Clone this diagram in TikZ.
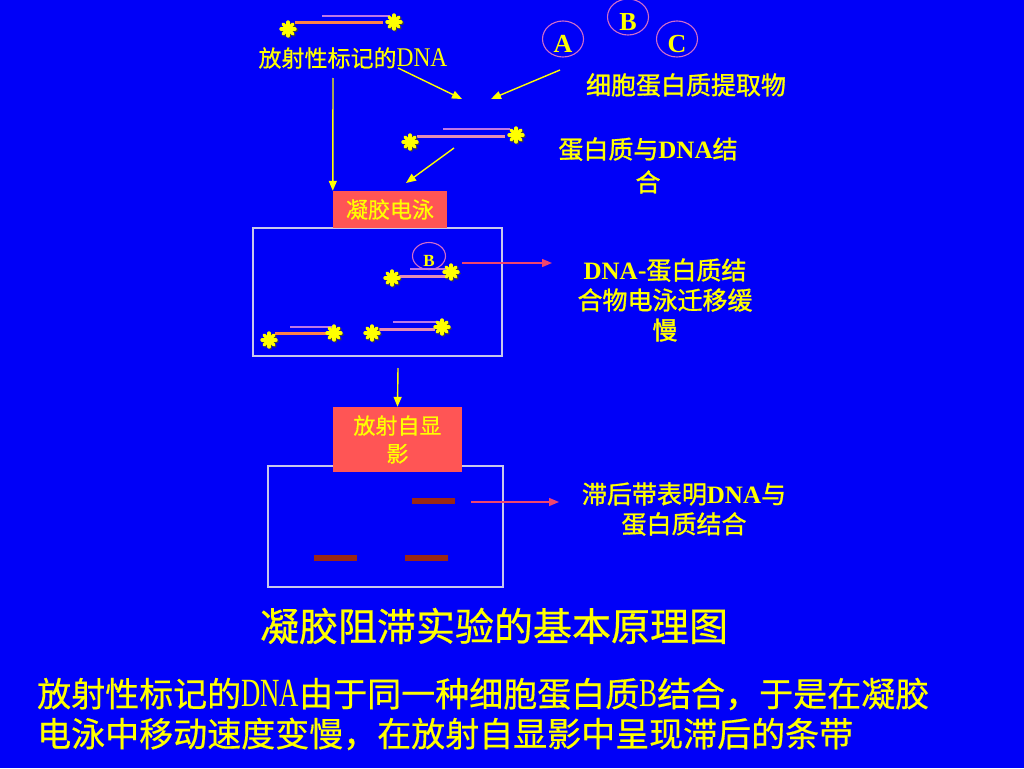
\documentclass[tikz,border=0pt]{standalone}
\usepackage{graphicx}
\usepackage{fontspec}
\setmainfont{Liberation Serif}
\newfontfamily\cjk[FakeBold=0.5]{Noto Sans CJK SC}
\newfontfamily\cjkb[FakeBold=1.2]{Noto Sans CJK SC}
\usetikzlibrary{arrows.meta,shapes.geometric,calc}
\definecolor{bg}{RGB}{0,0,248}
\definecolor{ylw}{RGB}{255,255,0}
\definecolor{boxred}{RGB}{255,85,85}
\definecolor{arrpink}{RGB}{240,70,110}
\definecolor{bandc}{RGB}{155,40,20}
\definecolor{ringc}{RGB}{210,110,200}
\definecolor{gelline}{RGB}{200,200,235}
\definecolor{strO}{RGB}{255,130,70}
\definecolor{strP}{RGB}{190,120,230}
\definecolor{strK}{RGB}{230,140,180}
\newcommand\fsz[2]{\fontsize{#1}{#2}\selectfont}
\newcommand\latn[3]{{\rmfamily\fsz{#1}{#1}\scalebox{#2}[1]{#3}}}
\newcommand\bdna{{\rmfamily\bfseries DNA}}
\begin{document}
\begin{tikzpicture}[x=1pt,y=-1pt,
 txt/.style={text=ylw, inner sep=0pt, align=center},
 arrY/.style={draw=ylw, line width=1.4pt, -{Triangle[length=10pt,width=8pt]}},
 arrK/.style={draw=arrpink, line width=1.4pt, -{Triangle[length=10pt,width=8pt]}},
 lbl/.style={fill=boxred, inner sep=0pt, text=ylw, align=center},
 gel/.style={draw=gelline, line width=1.4pt, inner sep=0pt},
 ring/.style={draw=ringc, line width=1.1pt, ellipse, inner sep=0pt},
 sO/.style={draw=strO, line width=3pt},
 sP/.style={draw=strP, line width=1.5pt},
 sK/.style={draw=strK, line width=3pt},
 bandst/.style={fill=bandc, draw=none, inner sep=0pt, minimum width=43pt, minimum height=6pt},
 astk/.pic={
   \foreach \a in {0,45,90,135}{\draw[black!75, line width=3.4pt, line cap=round] ($(\a:7)+(1.2,1.2)$) -- ($(\a+180:7)+(1.2,1.2)$);}
   \foreach \a in {0,45,90,135}{\draw[ylw, line width=3.4pt, line cap=round] (\a:7) -- (\a+180:7);}
 }]
\fill[bg] (0,0) rectangle (1024,768);
\useasboundingbox (0,0) rectangle (1024,768);

% top-left labelled DNA
\draw[sP] (322,16) -- (390,16);
\draw[sO] (295,23) -- (383,23);
\pic (s1) at (288,29) {astk};
\pic (s2) at (394,22) {astk};
\node[txt, font=\fsz{23}{23}\cjk] (dnaTxt) at (353,58) {放射性标记的\latn{27}{0.87}{DNA}};

% proteins A B C
\node[ring, minimum width=41pt, minimum height=36pt] (cA) at (563,39) {};
\node[ring, minimum width=41pt, minimum height=36pt] (cB) at (628,17) {};
\node[ring, minimum width=41pt, minimum height=36pt] (cC) at (677,39) {};
\node[txt, font=\fsz{26}{26}\bfseries] (lA) at (563,44) {A};
\node[txt, font=\fsz{26}{26}\bfseries] (lB) at (628,22) {B};
\node[txt, font=\fsz{26}{26}\bfseries] (lC) at (677,44) {C};
\node[txt, font=\fsz{25}{25}\cjkb] (extract) at (686,85) {细胞蛋白质提取物};

% arrows to mixing
\coordinate (a1s) at (398,68);
\coordinate (mixL) at (462,99);
\coordinate (a2s) at (560,70);
\coordinate (mixR) at (491,99);
\draw[arrY] (a1s) -- (mixL);
\draw[arrY] (a2s) -- (mixR);

% complex
\draw[sP] (443,129) -- (510,129);
\draw[sK] (417,136) -- (505,136);
\pic (s3) at (410,142) {astk};
\pic (s4) at (516,135) {astk};
\node[txt, font=\fsz{25}{33}\cjkb] (bind) at (648,165.5) {蛋白质与\bdna 结\\合};
\coordinate (a3s) at (454,148);
\coordinate (a3e) at (406,183);
\draw[arrY] (a3s) -- (a3e);

% gel 1
\node[gel, minimum width=249pt, minimum height=128pt] (gel1) at (377.5,292) {};
\node[lbl, minimum width=114pt, minimum height=37pt, font=\fsz{22}{22}\cjk] (gelLbl) at (390,209.5) {凝胶电泳};
\coordinate (a4s) at (333,78);
\draw[arrY] (a4s) -- (gelLbl.north west);

% bound complex in gel
\node[ring, minimum width=33pt, minimum height=27pt] (cBs) at (429,256) {};
\node[txt, font=\fsz{17}{17}\bfseries] (lBs) at (429,261) {B};
\draw[sP] (410,269) -- (447,269);
\draw[sK] (397,276) -- (445,276);
\pic (s5) at (392,278) {astk};
\pic (s6) at (451,272) {astk};
% free DNA
\draw[sP] (290,327) -- (335,327);
\draw[sO] (275,333) -- (328,333);
\pic (s7) at (269,340) {astk};
\pic (s8) at (334,333) {astk};
\draw[sP] (393,322) -- (440,322);
\draw[sK] (377,329) -- (435,329);
\pic (s9) at (372,333) {astk};
\pic (s10) at (442,327) {astk};

\coordinate (p1s) at (462,263);
\coordinate (p1e) at (552,263);
\draw[arrK] (p1s) -- (p1e);
\node[txt, font=\fsz{25}{30}\cjkb] (mig) at (665,300) {\bdna-蛋白质结\\合物电泳迁移缓\\慢};

% autoradiography
\coordinate (a5s) at (398,368);
\node[gel, minimum width=235pt, minimum height=121pt] (gel2) at (385.5,526.5) {};
\node[lbl, minimum width=129pt, minimum height=65pt, font=\fsz{22}{28}\cjk] (autoLbl) at (397.5,439.5) {放射自显\\影};
\draw[arrY] (a5s) -- (autoLbl.north);
\node[bandst] (b1) at (433.5,501) {};
\node[bandst] (b2) at (335,558) {};
\node[bandst] (b3) at (426,558) {};
\coordinate (p2s) at (471,502);
\coordinate (p2e) at (559,502);
\draw[arrK] (p2s) -- (p2e);
\node[txt, font=\fsz{25}{30}\cjkb] (lag) at (684,509) {滞后带表明\bdna 与\\蛋白质结合};

% title and caption
\node[txt, font=\fsz{39}{39}\cjk] (title) at (494,626) {凝胶阻滞实验的基本原理图};
\node[txt, align=left, anchor=west, font=\fsz{34}{40}\cjk] (caption) at (37,714) {放射性标记的\latn{40}{0.67}{DNA}由于同一种细胞蛋白质\latn{40}{0.67}{B}结合，于是在凝胶\\电泳中移动速度变慢，在放射自显影中呈现滞后的条带};
\end{tikzpicture}
\end{document}
